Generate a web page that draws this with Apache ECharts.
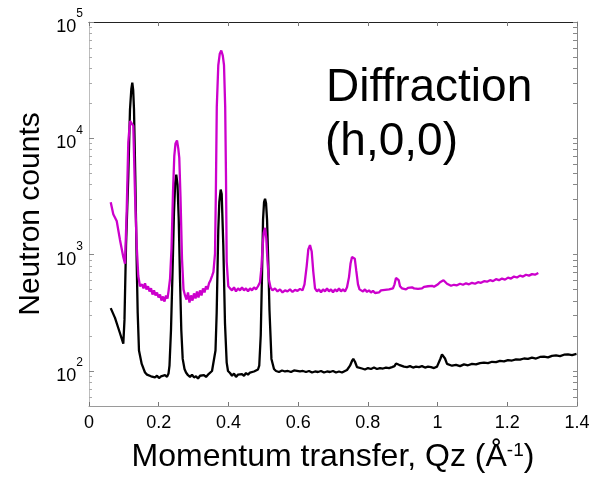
<!DOCTYPE html>
<html>
<head>
<meta charset="utf-8">
<script src="https://cdn.jsdelivr.net/npm/echarts@6/dist/echarts.min.js"></script>
<style>
  html, body { margin: 0; padding: 0; background: #fff; }
  #chart { width: 596px; height: 477px; }
</style>
</head>
<body>
<div id="chart"></div>
<script>
// Momentum transfer Qz (1/Å) and neutron counts for the two diffraction scans
const qBlack = [
  0.0623, 0.0746, 0.0889, 0.0984, 0.1018, 0.1062, 0.1127, 0.1176, 0.1214, 0.1242,
  0.1268, 0.1291, 0.1328, 0.1368, 0.1397, 0.1434, 0.1512, 0.1558, 0.1607, 0.1664,
  0.1721, 0.1779, 0.1836, 0.1893, 0.1951, 0.2008, 0.2066, 0.2123, 0.2180, 0.2238,
  0.2281, 0.2309, 0.2352, 0.2395, 0.2438, 0.2473, 0.2504, 0.2539, 0.2573, 0.2611,
  0.2648, 0.2688, 0.2740, 0.2783, 0.2840, 0.2898, 0.2955, 0.3012, 0.3070, 0.3127,
  0.3185, 0.3242, 0.3299, 0.3357, 0.3414, 0.3471, 0.3529, 0.3586, 0.3629, 0.3663,
  0.3709, 0.3738, 0.3778, 0.3807, 0.3853, 0.3901, 0.3950, 0.3988, 0.4045, 0.4103,
  0.4160, 0.4217, 0.4275, 0.4332, 0.4389, 0.4447, 0.4504, 0.4562, 0.4619, 0.4676,
  0.4734, 0.4791, 0.4848, 0.4884, 0.4927, 0.4964, 0.4993, 0.5022, 0.5051, 0.5079,
  0.5108, 0.5142, 0.5177, 0.5234, 0.5307, 0.5365, 0.5451, 0.5537, 0.5623, 0.5709,
  0.5795, 0.5881, 0.5967, 0.6053, 0.6139, 0.6225, 0.6312, 0.6398, 0.6484, 0.6570,
  0.6656, 0.6742, 0.6828, 0.6914, 0.7000, 0.7086, 0.7172, 0.7258, 0.7344, 0.7402,
  0.7488, 0.7545, 0.7582, 0.7631, 0.7689, 0.7746, 0.7832, 0.7918, 0.8004, 0.8090,
  0.8176, 0.8262, 0.8348, 0.8434, 0.8521, 0.8607, 0.8693, 0.8765, 0.8808, 0.8845,
  0.8894, 0.8951, 0.9037, 0.9123, 0.9209, 0.9295, 0.9381, 0.9467, 0.9553, 0.9639,
  0.9726, 0.9812, 0.9898, 0.9984, 1.0041, 1.0084, 1.0127, 1.0165, 1.0213, 1.0271,
  1.0328, 1.0414, 1.0529, 1.0644, 1.0758, 1.0873, 1.0988, 1.1103, 1.1217, 1.1332,
  1.1447, 1.1562, 1.1676, 1.1791, 1.1906, 1.2021, 1.2135, 1.2250, 1.2365, 1.2480,
  1.2594, 1.2709, 1.2824, 1.2939, 1.3053, 1.3168, 1.3283, 1.3398, 1.3512, 1.3627,
  1.3742, 1.3857, 1.3986
];
const countsBlack = [
  347, 286, 211, 172, 275, 1202, 4710, 17700, 26400, 30100,
  25900, 17700, 4710, 869, 316, 150, 115, 106, 97, 93,
  96, 90, 92, 88, 91, 87, 90, 88, 92, 89,
  95, 111, 224, 681, 2306, 4160, 4870, 3996, 2085, 615,
  224, 127, 104, 97, 92, 89, 93, 88, 90, 86,
  91, 88, 92, 89, 93, 96, 100, 104, 150, 316,
  1630, 2826, 3631, 3326, 1201, 258, 118, 100, 96, 91,
  95, 89, 93, 90, 94, 91, 96, 93, 97, 95,
  99, 98, 103, 111, 203, 681, 2000, 2826, 3025, 2770,
  2000, 885, 336, 127, 104, 100, 98, 101, 99, 100,
  98, 101, 100, 99, 100, 98, 100, 97, 99, 98,
  100, 97, 99, 98, 100, 97, 99, 97, 100, 102,
  111, 122, 127, 120, 108, 104, 105, 103, 106, 104,
  107, 104, 106, 105, 107, 106, 108, 110, 116, 118,
  113, 110, 109, 108, 110, 107, 109, 108, 110, 107,
  109, 108, 106, 109, 113, 128, 139, 140, 128, 115,
  111, 111, 113, 110, 114, 112, 115, 114, 117, 118,
  117, 120, 119, 122, 121, 124, 123, 126, 125, 128,
  127, 130, 128, 132, 133, 131, 135, 136, 134, 138,
  139, 137, 140
];

const qMagenta = [
  0.0623, 0.0697, 0.0795, 0.0889, 0.0984, 0.1033, 0.1082, 0.1127, 0.1176, 0.1225,
  0.1271, 0.1320, 0.1368, 0.1414, 0.1463, 0.1521, 0.1564, 0.1607, 0.1649, 0.1693,
  0.1736, 0.1779, 0.1822, 0.1865, 0.1908, 0.1951, 0.1994, 0.2037, 0.2080, 0.2123,
  0.2166, 0.2209, 0.2252, 0.2281, 0.2324, 0.2367, 0.2410, 0.2447, 0.2482, 0.2525,
  0.2562, 0.2590, 0.2625, 0.2668, 0.2711, 0.2754, 0.2797, 0.2840, 0.2883, 0.2926,
  0.2969, 0.3012, 0.3056, 0.3098, 0.3141, 0.3185, 0.3228, 0.3271, 0.3314, 0.3357,
  0.3400, 0.3443, 0.3486, 0.3529, 0.3570, 0.3615, 0.3638, 0.3666, 0.3709, 0.3752,
  0.3795, 0.3838, 0.3873, 0.3907, 0.3930, 0.3950, 0.3996, 0.4045, 0.4103, 0.4160,
  0.4217, 0.4275, 0.4332, 0.4389, 0.4447, 0.4504, 0.4562, 0.4619, 0.4676, 0.4734,
  0.4791, 0.4848, 0.4906, 0.4943, 0.4977, 0.5011, 0.5049, 0.5086, 0.5120, 0.5158,
  0.5207, 0.5264, 0.5336, 0.5408, 0.5480, 0.5551, 0.5623, 0.5695, 0.5766, 0.5838,
  0.5910, 0.5982, 0.6053, 0.6125, 0.6182, 0.6246, 0.6291, 0.6340, 0.6389, 0.6435,
  0.6484, 0.6541, 0.6598, 0.6656, 0.6713, 0.6771, 0.6828, 0.6885, 0.6943, 0.7000,
  0.7057, 0.7115, 0.7172, 0.7229, 0.7287, 0.7344, 0.7402, 0.7459, 0.7502, 0.7545,
  0.7582, 0.7625, 0.7668, 0.7717, 0.7760, 0.7803, 0.7861, 0.7918, 0.7975, 0.8033,
  0.8090, 0.8148, 0.8205, 0.8262, 0.8319, 0.8377, 0.8434, 0.8492, 0.8549, 0.8607,
  0.8664, 0.8721, 0.8765, 0.8807, 0.8845, 0.8885, 0.8922, 0.8980, 0.9037, 0.9094,
  0.9152, 0.9209, 0.9266, 0.9324, 0.9381, 0.9439, 0.9496, 0.9553, 0.9611, 0.9668,
  0.9726, 0.9783, 0.9840, 0.9898, 0.9955, 1.0013, 1.0070, 1.0127, 1.0170, 1.0213,
  1.0271, 1.0328, 1.0385, 1.0471, 1.0557, 1.0644, 1.0730, 1.0816, 1.0902, 1.0988,
  1.1074, 1.1160, 1.1246, 1.1332, 1.1418, 1.1504, 1.1590, 1.1676, 1.1762, 1.1848,
  1.1935, 1.2021, 1.2107, 1.2193, 1.2279, 1.2365, 1.2451, 1.2537, 1.2623, 1.2709,
  1.2795, 1.2890
];
const countsMagenta = [
  2826, 2228, 1945, 1339, 955, 834, 2404, 9224, 14100, 14500,
  12800, 3326, 1201, 655, 535, 556, 513, 567, 503, 535,
  483, 513, 454, 493, 446, 473, 428, 454, 403, 437,
  395, 446, 420, 483, 615, 1130, 3467, 7079, 9036, 9600,
  8165, 6793, 3135, 922, 503, 446, 411, 473, 387, 446,
  403, 464, 420, 483, 428, 493, 446, 513, 473, 535,
  503, 567, 603, 655, 710, 1020, 3135, 18700, 42500, 53400,
  56900, 51400, 42500, 18700, 4710, 869, 535, 513, 493, 524,
  483, 513, 493, 524, 493, 513, 483, 513, 493, 524,
  503, 535, 580, 753, 1130, 1534, 1698, 1385, 885, 615,
  524, 493, 513, 483, 503, 473, 493, 483, 503, 478,
  498, 488, 508, 493, 556, 801, 1107, 1208, 1063, 710,
  513, 483, 503, 473, 503, 483, 513, 483, 503, 473,
  503, 483, 513, 483, 503, 483, 524, 641, 834, 955,
  985, 923, 725, 556, 503, 493, 483, 503, 478, 493,
  473, 488, 468, 483, 473, 493, 483, 498, 488, 503,
  498, 513, 556, 630, 646, 603, 535, 513, 524, 503,
  519, 508, 524, 513, 529, 508, 524, 513, 529, 519,
  535, 524, 540, 529, 545, 556, 580, 598, 603, 585,
  562, 551, 540, 551, 545, 562, 551, 567, 556, 573,
  562, 580, 573, 592, 585, 603, 592, 615, 603, 623,
  610, 635, 623, 648, 636, 660, 648, 672, 660, 680,
  672, 695
];

// Axis ticks
const xTicks = [0, 0.2, 0.4, 0.6, 0.8, 1, 1.2, 1.4];
const yMajorTicks = [100, 1000, 10000, 100000];
const yMinorTicks = [
  60, 70, 80, 90,
  200, 300, 400, 500, 600, 700, 800, 900,
  2000, 3000, 4000, 5000, 6000, 7000, 8000, 9000,
  20000, 30000, 40000, 50000, 60000, 70000, 80000, 90000
];

const FONT = 'Arial, "Liberation Sans", Helvetica, sans-serif';
const zip = (xs, ys) => xs.map((x, i) => [x, ys[i]]);

const chart = echarts.init(document.getElementById('chart'), null, { renderer: 'canvas' });

chart.setOption({
  animation: false,
  backgroundColor: '#ffffff',
  grid: { left: 89, right: 19, top: 22, bottom: 71, containLabel: false, outerBoundsMode: 'none' },
  xAxis: [
    {
      type: 'value', min: 0, max: 1.4, interval: 0.2, position: 'bottom',
      name: 'Momentum transfer, Qz (Å{sup|-1})',
      nameLocation: 'middle', nameGap: 35,
      nameTextStyle: {
        fontFamily: FONT, fontSize: 32, color: '#000',
        rich: { sup: { fontFamily: FONT, fontSize: 19, color: '#000', verticalAlign: 'top', lineHeight: 19 } }
      },
      axisLine: { show: true, onZero: false, lineStyle: { color: '#9a9a9a', width: 1 } },
      axisTick: { show: true, inside: true, length: 4, lineStyle: { color: '#777' }, customValues: xTicks },
      axisLabel: { fontFamily: FONT, fontSize: 18, color: '#000', margin: 8, customValues: xTicks },
      splitLine: { show: false }
    },
    {
      type: 'value', min: 0, max: 1.4, interval: 0.2, position: 'top',
      axisLine: { show: true, onZero: false, lineStyle: { color: '#222', width: 1 } },
      axisTick: { show: true, inside: true, length: 4, lineStyle: { color: '#777' }, customValues: xTicks },
      axisLabel: { show: false },
      splitLine: { show: false }
    }
  ],
  yAxis: [
    {
      type: 'log', logBase: 10, min: 50, max: 100000, position: 'left',
      name: 'Neutron counts', nameLocation: 'middle', nameGap: 41, nameRotate: 90,
      nameTextStyle: { fontFamily: FONT, fontSize: 30, color: '#000' },
      axisLine: { show: true, onZero: false, lineStyle: { color: '#bdbdbd', width: 1 } },
      axisTick: { show: true, inside: true, length: 5, lineStyle: { color: '#888' }, customValues: yMajorTicks },
      axisLabel: {
        margin: 6, customValues: yMajorTicks,
        formatter: (v) => '{b|10}{s|' + Math.round(Math.log10(v)) + '}',
        rich: {
          b: { fontFamily: FONT, fontSize: 18, color: '#000', lineHeight: 28, verticalAlign: 'bottom' },
          s: { fontFamily: FONT, fontSize: 12, color: '#000', lineHeight: 12, verticalAlign: 'top' }
        }
      },
      splitLine: { show: false }
    },
    {
      type: 'log', logBase: 10, min: 50, max: 100000, position: 'left',
      axisLine: { show: false },
      axisTick: { show: true, inside: true, length: 3, lineStyle: { color: '#aaa' }, customValues: yMinorTicks },
      axisLabel: { show: false },
      splitLine: { show: false }
    },
    {
      type: 'log', logBase: 10, min: 50, max: 100000, position: 'right',
      axisLine: { show: true, onZero: false, lineStyle: { color: '#8a8a8a', width: 1 } },
      axisTick: { show: true, inside: true, length: 4, lineStyle: { color: '#888' }, customValues: yMajorTicks.concat(yMinorTicks) },
      axisLabel: { show: false },
      splitLine: { show: false }
    }
  ],
  graphic: [
    {
      type: 'text', left: 326, top: 65, silent: true,
      style: { text: 'Diffraction', fontFamily: FONT, fontSize: 46, fill: '#000' }
    },
    {
      type: 'text', left: 325, top: 119, silent: true,
      style: { text: '(h,0,0)', fontFamily: FONT, fontSize: 46, fill: '#000' }
    }
  ],
  series: [
    {
      name: 'black', type: 'line', xAxisIndex: 0, yAxisIndex: 0,
      data: zip(qBlack, countsBlack),
      showSymbol: false, symbol: 'none',
      lineStyle: { color: '#000000', width: 2.3 },
      z: 2
    },
    {
      name: 'magenta', type: 'line', xAxisIndex: 0, yAxisIndex: 0,
      data: zip(qMagenta, countsMagenta),
      showSymbol: false, symbol: 'none',
      lineStyle: { color: '#cc00cc', width: 2.3 },
      z: 3
    }
  ]
});
</script>
</body>
</html>
